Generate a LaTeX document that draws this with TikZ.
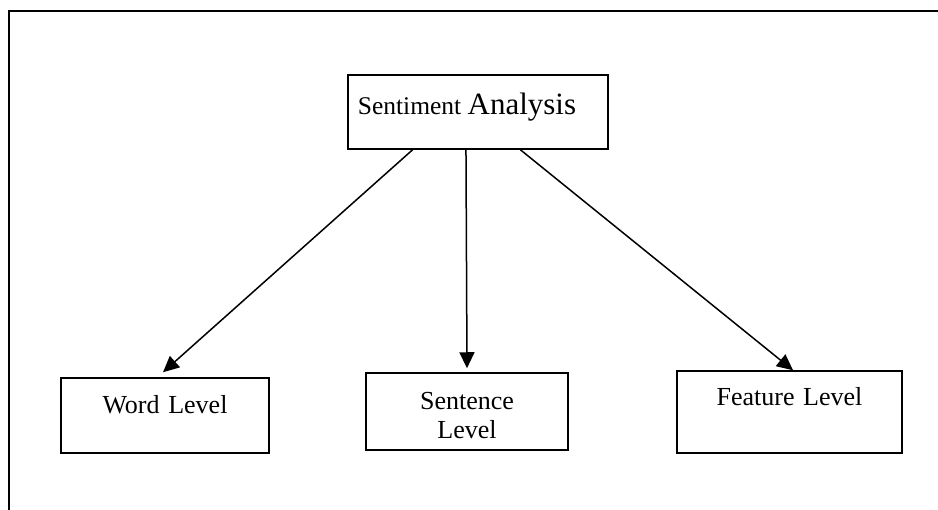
\documentclass[tikz,border=0pt]{standalone}
\usepackage{fontspec}
\setmainfont{Liberation Serif}
\usetikzlibrary{arrows.meta, calc}
\tikzset{
  levelbox/.style={draw, line width=1.5pt, inner sep=0pt, align=center,
    font=\fontsize{26}{29}\selectfont},
  tolevel/.style={line width=1.5pt, -{Triangle[length=16pt,width=15pt]}}
}

\begin{document}
\begin{tikzpicture}[x=1pt, y=-1pt]
\useasboundingbox (0,0) rectangle (938,510);
\draw [line width=1.8pt] (9,530) -- (9,11) -- (950,11);
\node [levelbox, minimum width=260pt, text height=40pt, text depth=34pt] (sa) at (478,112)
  {\mbox{\fontsize{25.5}{29}\selectfont Sentiment \fontsize{31}{34}\selectfont Analysis\hspace{22pt}}};
\node [levelbox, text width=208pt, text height=36pt, text depth=39pt] (word) at (165,415.5) {Word Level};
\node [levelbox, text width=202pt, text height=37pt, text depth=40pt] (sent) at (467,411.5) {Sentence\\Level};
\node [levelbox, text width=225pt, text height=35pt, text depth=47pt] (feat) at (789.5,412) {Feature Level};
\draw [tolevel] ($(sa.south west)!0.25!(sa.south east)$) -- ($(word.north)+(-2,-5)$);
\draw [tolevel] ($(sa.south west)!0.454!(sa.south east)$) -- ($(sent.north)+(0,-4)$);
\draw [tolevel] ($(sa.south west)!0.662!(sa.south east)$) -- ($(feat.north)+(3.5,0)$);
\end{tikzpicture}
\end{document}
